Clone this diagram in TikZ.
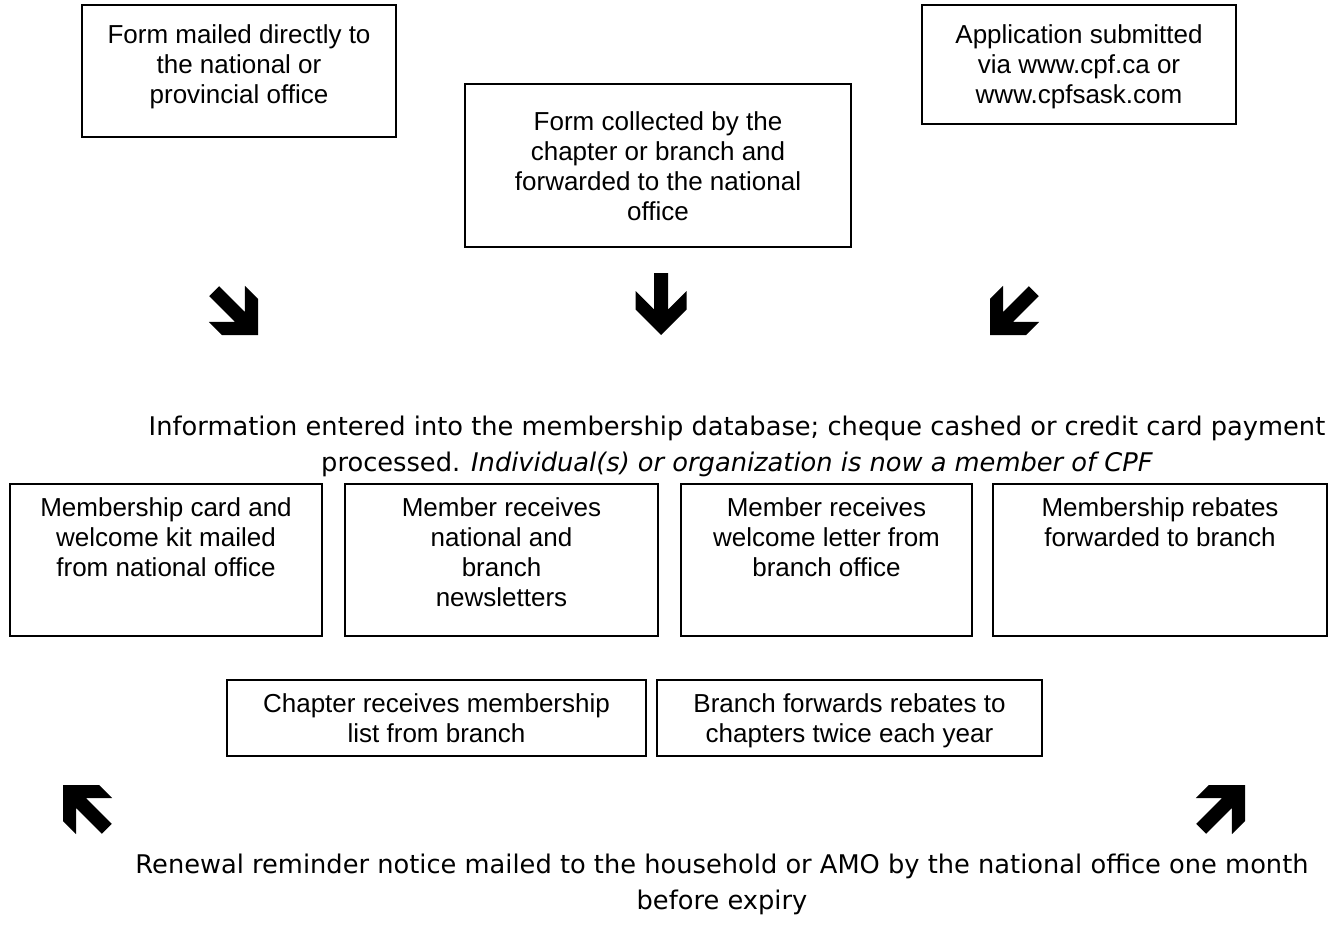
\documentclass[tikz,border=0pt]{standalone}
\usepackage{fontspec}
\setmainfont{Liberation Sans}
\newfontfamily\verd{DejaVu Sans}
\begin{document}
\begin{tikzpicture}[x=1pt,y=-1pt,
  box/.style={draw, line width=2pt, inner sep=0pt},
  btext/.style={anchor=north, align=center, inner sep=0pt, font=\fontsize{26}{30}\selectfont},
  mtext/.style={align=center, inner sep=0pt, font=\verd\fontsize{25.7}{36}\selectfont},
  bigarrow/.pic={\fill (0,0) -- (-25.5,-25.5) -- (-25.5,-44) -- (-7,-25.5) -- (-7,-62) -- (7,-62) -- (7,-25.5) -- (25.5,-44) -- (25.5,-25.5) -- cycle;}
]
\useasboundingbox (0,0) rectangle (1337,924);
% top boxes
\node[box, minimum width=314, minimum height=132] (b1) at (239,71) {};
\node[btext] (t1) at ([yshift=-20pt]b1.north) {Form mailed directly to\\the national or\\provincial office};
\node[box, minimum width=386, minimum height=163] (b2) at (658,165.5) {};
\node[btext] (t2) at ([yshift=-28pt]b2.north) {Form collected by the\\chapter or branch and\\forwarded to the national\\office};
\node[box, minimum width=314, minimum height=119] (b3) at (1079,64.5) {};
\node[btext] (t3) at ([yshift=-20pt]b3.north) {Application submitted\\via www.cpf.ca or\\www.cpfsask.com};
% arrows
\pic[rotate=45] at (258,335) {bigarrow};
\pic at (661,335) {bigarrow};
\pic[rotate=-45] at (990,335) {bigarrow};
% info
\node[mtext] (info) at (737,446) {Information entered into the membership database; cheque cashed or credit card payment\\processed. \textit{Individual(s) or organization is now a member of CPF}};
% row boxes
\node[box, minimum width=312, minimum height=152] (b4) at (166,560) {};
\node[btext] (t4) at ([yshift=-14pt]b4.north) {Membership card and\\welcome kit mailed\\from national office};
\node[box, minimum width=313, minimum height=152] (b5) at (501.5,560) {};
\node[btext] (t5) at ([yshift=-14pt]b5.north) {Member receives\\national and\\branch\\newsletters};
\node[box, minimum width=291, minimum height=152] (b6) at (826.5,560) {};
\node[btext] (t6) at ([yshift=-14pt]b6.north) {Member receives\\welcome letter from\\branch office};
\node[box, minimum width=334, minimum height=152] (b7) at (1160,560) {};
\node[btext] (t7) at ([yshift=-14pt]b7.north) {Membership rebates\\forwarded to branch};
\node[box, minimum width=419, minimum height=76] (b8) at (436.5,718) {};
\node[btext] (t8) at ([yshift=-14pt]b8.north) {Chapter receives membership\\list from branch};
\node[box, minimum width=385, minimum height=76] (b9) at (849.5,718) {};
\node[btext] (t9) at ([yshift=-14pt]b9.north) {Branch forwards rebates to\\chapters twice each year};
% lower arrows
\pic[rotate=-135] at (63,785) {bigarrow};
\pic[rotate=135] at (1245,785) {bigarrow};
% renewal
\node[mtext] (renew) at (722,884) {Renewal reminder notice mailed to the household or AMO by the national office one month\\before expiry};
\end{tikzpicture}
\end{document}
